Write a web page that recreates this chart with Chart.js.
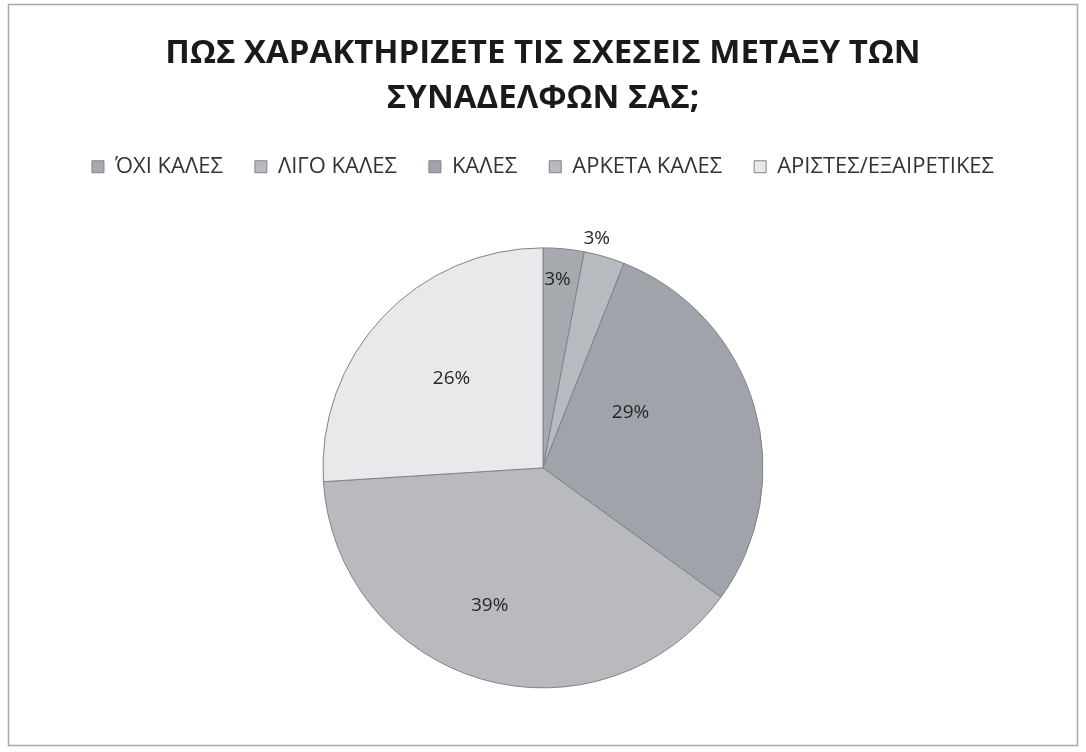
<!DOCTYPE html>
<html>
<head>
<meta charset="utf-8">
<script src="https://cdn.jsdelivr.net/npm/chart.js@4"></script>
<style>
  html, body { margin: 0; padding: 0; background: #fff; }
  #wrap { width: 1086px; height: 752px; position: relative; }
</style>
</head>
<body>
<div id="wrap"><canvas id="graficoSxeseis" width="1086" height="752"></canvas></div>
<script>
const katigories = ['ΌΧΙ ΚΑΛΕΣ', 'ΛΙΓΟ ΚΑΛΕΣ', 'ΚΑΛΕΣ', 'ΑΡΚΕΤΑ ΚΑΛΕΣ', 'ΑΡΙΣΤΕΣ/ΕΞΑΙΡΕΤΙΚΕΣ'];
const pososta = [3, 3, 29, 39, 26];
const titlos = ['ΠΩΣ ΧΑΡΑΚΤΗΡΙΖΕΤΕ ΤΙΣ ΣΧΕΣΕΙΣ ΜΕΤΑΞΥ ΤΩΝ', 'ΣΥΝΑΔΕΛΦΩΝ ΣΑΣ;'];

const xromata = ['#a6a9ae', '#b7babf', '#a0a3a9', '#b8babe', '#e9e9eb'];
// where each percentage sits: fraction of radius and turn from the slice middle (degrees)
const apostasiEtiketas = [0.86, 1.07, 0.47, 0.67, 0.58];
const strofiEtiketas = [-1, -3, -16, 5, 1];

// white page with the thin grey frame
const plaisio = {
  id: 'plaisio',
  beforeDraw(chart) {
    const c = chart.ctx;
    c.save();
    c.fillStyle = '#fff';
    c.fillRect(0, 0, chart.width, chart.height);
    c.strokeStyle = '#a9a9a9';
    c.lineWidth = 1.5;
    c.strokeRect(8.5, 4.5, 1069, 741);
    c.restore();
  }
};

// percentage labels on the slices
const etiketes = {
  id: 'etiketes',
  afterDatasetsDraw(chart) {
    const c = chart.ctx;
    const meta = chart.getDatasetMeta(0);
    const data = chart.data.datasets[0].data;
    const synolo = data.reduce((a, b) => a + b, 0);
    c.save();
    c.font = '19px "Open Sans", sans-serif';
    c.fillStyle = '#262626';
    c.textAlign = 'center';
    c.textBaseline = 'middle';
    meta.data.forEach((arc, i) => {
      const p = arc.getProps(['x', 'y', 'startAngle', 'endAngle', 'outerRadius'], true);
      const gonia = (p.startAngle + p.endAngle) / 2 + strofiEtiketas[i] * Math.PI / 180;
      const r = p.outerRadius * apostasiEtiketas[i];
      const x = p.x + Math.cos(gonia) * r;
      const y = p.y + Math.sin(gonia) * r;
      c.fillText(Math.round(data[i] / synolo * 100) + '%', x, y);
    });
    c.restore();
  }
};

const ctx = document.getElementById('graficoSxeseis').getContext('2d');
new Chart(ctx, {
  type: 'pie',
  data: {
    labels: katigories,
    datasets: [{
      data: pososta,
      backgroundColor: xromata,
      borderColor: '#80838a',
      borderWidth: 1
    }]
  },
  options: {
    responsive: false,
    animation: false,
    radius: 220,
    layout: { padding: { top: 31, bottom: 4 } },
    plugins: {
      title: {
        display: true,
        text: titlos,
        color: '#1a1a1a',
        font: { family: '"Open Sans", sans-serif', size: 33, weight: 'bold', lineHeight: 1.36 },
        padding: { top: 0, bottom: 3 }
      },
      legend: {
        position: 'top',
        labels: {
          color: '#333',
          font: { family: '"Open Sans", sans-serif', size: 22 },
          boxWidth: 12,
          boxHeight: 12,
          padding: 32
        }
      },
      tooltip: { enabled: false }
    }
  },
  plugins: [plaisio, etiketes]
});
</script>
</body>
</html>
